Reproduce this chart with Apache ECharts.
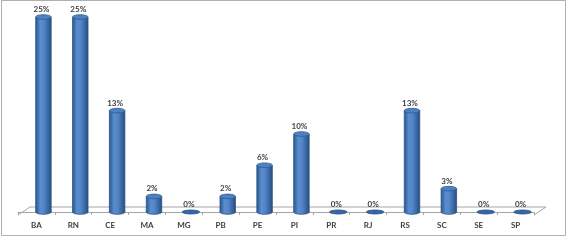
<!DOCTYPE html>
<html><head><meta charset="utf-8">
<script src="https://cdn.jsdelivr.net/npm/echarts@6/dist/echarts.min.js"></script>
<style>html,body{margin:0;padding:0;background:#fff}#c{width:567px;height:242px}</style>
</head><body><div id="c"></div>
<script>
const categories = ['BA','RN','CE','MA','MG','PB','PE','PI','PR','RJ','RS','SC','SE','SP'];
const values = [25,25,13,2,0,2,6,10,0,0,13,3,0,0];
const labels = values.map(v => v + '%');

const chart = echarts.init(document.getElementById('c'), null, {renderer:'canvas'});

function renderFloor(params, api){
  const cs = params.coordSys;
  const y0 = api.coord([0,0])[1];
  const front = y0 + 3, back = y0 - 5, dx = 12;
  return {
    type:'polyline',
    shape:{points:[[cs.x, front],[cs.x+dx, back],[cs.x+cs.width+dx, back],[cs.x+cs.width, front]]},
    style:{stroke:'#a6a6a6', fill:null, lineWidth:1},
    silent:true
  };
}

function renderBar(params, api){
  const idx = api.value(0), v = api.value(1);
  const base = api.coord([idx, 0]);
  const top = api.coord([idx, v]);
  const bw = api.size([1,0])[0];
  const w = bw*0.42, rx = w/2, ry = 2.3;
  const cx = base[0] + bw*0.19;
  const grad = new echarts.graphic.LinearGradient(0,0,1,0,[
    {offset:0,color:'#2b5890'},{offset:0.3,color:'#5a8ecf'},{offset:0.55,color:'#5284c6'},{offset:1,color:'#284f85'}]);
  const children = [];
  if (v > 0) {
    children.push({type:'ellipse', shape:{cx:cx, cy:base[1], rx:rx, ry:ry}, style:{fill:grad, stroke:'#2a5286', lineWidth:0.8}});
    children.push({type:'rect', shape:{x:cx-rx, y:top[1], width:w, height:base[1]-top[1]}, style:{fill:grad, stroke:null}});
    children.push({type:'line', shape:{x1:cx-rx, y1:top[1], x2:cx-rx, y2:base[1]}, style:{stroke:'#2a5286', lineWidth:0.8}});
    children.push({type:'line', shape:{x1:cx+rx, y1:top[1], x2:cx+rx, y2:base[1]}, style:{stroke:'#2a5286', lineWidth:0.8}});
    children.push({type:'ellipse', shape:{cx:cx, cy:top[1], rx:rx, ry:ry}, style:{fill:'#4e81c2', stroke:'#2f5b93', lineWidth:0.8}});
  } else {
    children.push({type:'ellipse', shape:{cx:cx, cy:base[1], rx:rx+1, ry:ry-0.3}, style:{fill:'#3566a6', stroke:'#2a5286', lineWidth:0.8}});
  }
  children.push({type:'text', style:{text:labels[idx], x:cx-2, y:top[1]-3.5, align:'center', verticalAlign:'bottom',
    fill:'#404040', font:'bold 8px Lato'}});
  return {type:'group', children:children};
}

chart.setOption({
  animation:false,
  backgroundColor:'#fff',
  grid:{left:18, right:33, top:17, bottom:30},
  xAxis:{type:'category', data:categories, offset:3,
    axisLine:{lineStyle:{color:'#a6a6a6', width:1}},
    axisTick:{show:true, length:3, lineStyle:{color:'#a6a6a6'}},
    axisLabel:{fontSize:8, fontWeight:'bold', color:'#404040', fontFamily:'Lato', margin:6}},
  yAxis:{type:'value', min:0, max:25, show:false, splitLine:{show:false}},
  graphic:[{type:'rect', shape:{x:1.5, y:0.5, width:564, height:235}, style:{fill:null, stroke:'#b0b0b0', lineWidth:1}, silent:true}],
  series:[
    {type:'custom', renderItem:renderFloor, data:[[0,0]], z:1, silent:true},
    {type:'custom', renderItem:renderBar, data:values.map((v,i)=>[i,v]), z:2,
      encode:{x:0, y:1}}
  ]
});
</script></body></html>
